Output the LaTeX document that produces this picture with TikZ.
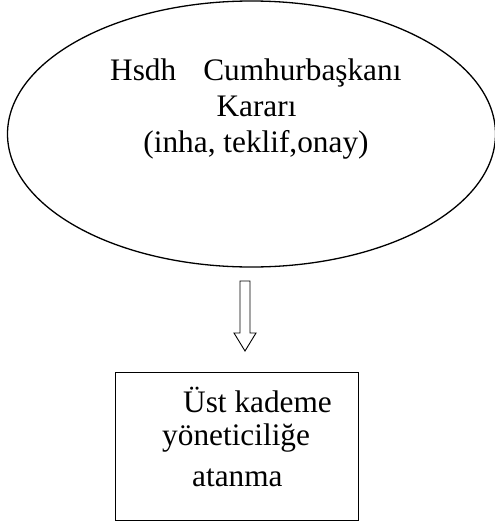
\documentclass[tikz,border=0pt]{standalone}
\usepackage{fontspec}
\setmainfont{Liberation Serif}
\usetikzlibrary{shapes.geometric}
\begin{document}
\begin{tikzpicture}[x=1pt,y=-1pt,
  txt/.style={inner sep=0pt,font=\fontsize{31.3pt}{36pt}\selectfont},
  oval/.style={draw,ellipse,line width=1.3pt,inner sep=0pt,minimum width=488pt,minimum height=266pt},
  box/.style={draw,rectangle,line width=1.6pt,inner sep=0pt,minimum width=243pt,minimum height=148pt},
  blockarrow/.style={draw,line width=0.9pt,line join=miter,fill=white}]
\useasboundingbox (0,0) rectangle (495,525);

% decision oval
\node[oval] (karar) at (251.5,134) {};
\node[txt,anchor=base west] (l1) at (110,80) {Hsdh\hspace{27pt}Cumhurbaşkanı};
\node[txt,anchor=base] (l2) at (256.5,116) {Kararı};
\node[txt,anchor=base] (l3) at (256,152) {(inha, teklif,onay)};

% hollow block arrow
\coordinate (at) at (240,281);
\coordinate (tip) at (245,351);
\draw[blockarrow] (at) -- (250,281) -- (250,333) -- (256,333) -- (tip)
  -- (234,333) -- (240,333) -- cycle;

% result box
\node[box] (atama) at (237,446.5) {};
\node[txt,anchor=base west] (b1) at (183,412) {Üst kademe};
\node[txt,anchor=base west] (b2) at (162,445.5) {yöneticiliğe};
\node[txt,anchor=base west] (b3) at (192,486.5) {atanma};
\end{tikzpicture}
\end{document}
